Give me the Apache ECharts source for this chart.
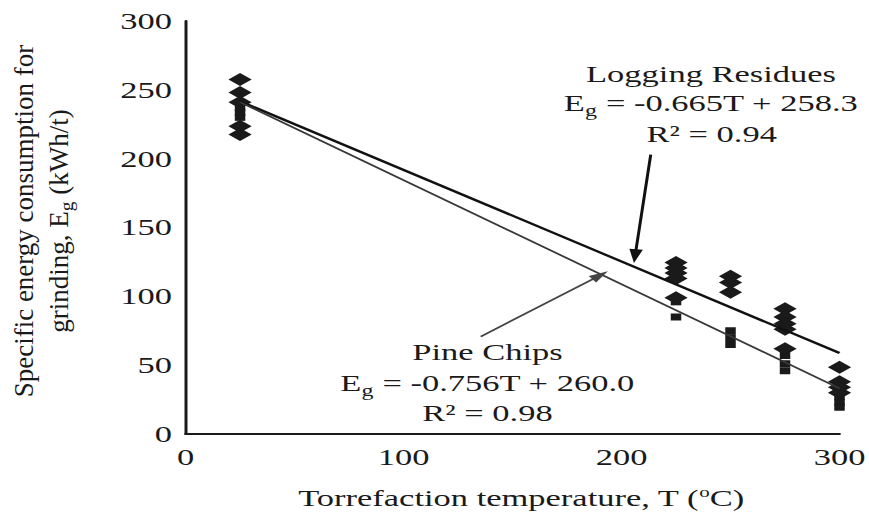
<!DOCTYPE html>
<html>
<head>
<meta charset="utf-8">
<script src="https://cdn.jsdelivr.net/npm/echarts@6/dist/echarts.min.js"></script>
<style>
html,body{margin:0;padding:0;background:#ffffff;overflow:hidden;width:869px;height:515px;}
#chart{width:579.333px;height:515px;transform:scaleX(1.5);transform-origin:0 0;}
</style>
</head>
<body>
<div id="chart"></div>
<script>
// ---- data ----
const xTickValues = [0, 100, 200, 300];
const yTickValues = [0, 50, 100, 150, 200, 250, 300];

// Logging residues (diamonds): [temperature, energy]
const loggingResidues = [
  [25, 257.5], [25, 248], [25, 241], [25, 223.5], [25, 217.5],
  [225, 124.5], [225, 120.5], [225, 117], [225, 113], [225, 99],
  [250, 114.5], [250, 110], [250, 103],
  [275, 91], [275, 85], [275, 80], [275, 76], [275, 62],
  [300, 48.5], [300, 38], [300, 34], [300, 30]
];
// Pine chips (squares)
const pineChips = [
  [25, 237], [25, 233.5], [25, 230],
  [225, 85], [225, 96],
  [250, 75], [250, 70], [250, 65],
  [275, 57], [275, 51], [275, 46],
  [300, 27], [300, 23], [300, 19.5]
];
// Fitted trend lines (end points)
const loggingTrend = [[25, 241.7], [300, 58.8]];
const pineTrend = [[25, 241.1], [300, 33.2]];

// Annotation arrows: [from, to]
const loggingArrow = [[213.4, 202.9], [206.2, 129.2]];
const pineArrow = [[135.4, 70.8], [190.2, 115.3]];

const loggingText = ['Logging Residues', '-0.665T + 258.3', '0.94'];
const pineText = ['Pine Chips', '-0.756T + 260.0', '0.98'];

// ---- chart ----
const FONT = '"Liberation Serif", "Times New Roman", serif';
const INK = '#1a1a1a';
const chart = echarts.init(document.getElementById('chart'), null, {renderer: 'svg'});

function plain(text, x, y) {
  return {
    type: 'text', x: x, y: y, silent: true,
    style: {
      text: text, fill: INK, font: '23px ' + FONT,
      fontSize: 23, fontFamily: FONT,
      align: 'center', verticalAlign: 'middle',
      textAlign: 'center', textVerticalAlign: 'middle'
    }
  };
}
function equation(expr, x, y) {
  return {
    type: 'text', x: x, y: y, silent: true,
    style: {
      text: '{n|E}{s|g}{n| = ' + expr + '}',
      align: 'center', verticalAlign: 'middle',
      textAlign: 'center', textVerticalAlign: 'middle',
      fill: INK,
      rich: {
        n: {fontSize: 23, fontFamily: FONT, fill: INK, lineHeight: 30, verticalAlign: 'middle'},
        s: {fontSize: 16, fontFamily: FONT, fill: INK, lineHeight: 15, verticalAlign: 'bottom'}
      }
    }
  };
}

const option = {
  backgroundColor: '#ffffff',
  animation: false,
  grid: {
    left: 123.7, right: 19.33, top: 21, bottom: 81,
    containLabel: false, outerBoundsMode: 'none'
  },
  xAxis: {
    type: 'value',
    min: xTickValues[0], max: xTickValues[xTickValues.length - 1],
    interval: xTickValues[1] - xTickValues[0],
    axisLine: {show: true, onZero: false, lineStyle: {color: INK, width: 2}},
    axisTick: {show: false},
    splitLine: {show: false},
    axisLabel: {color: INK, fontSize: 23, fontFamily: FONT, margin: 12},
    name: '{a|Torrefaction temperature, T (}{b|o}{a|C)}',
    nameLocation: 'middle',
    nameGap: 51,
    nameTextStyle: {
      padding: [0, 0, 0, 11],
      rich: {
        a: {fontSize: 23, fontFamily: FONT, color: INK, lineHeight: 26, verticalAlign: 'middle'},
        b: {fontSize: 14, fontFamily: FONT, color: INK, lineHeight: 20, verticalAlign: 'top'}
      }
    }
  },
  yAxis: {
    type: 'value',
    min: yTickValues[0], max: yTickValues[yTickValues.length - 1],
    interval: yTickValues[1] - yTickValues[0],
    axisLine: {show: true, onZero: false, lineStyle: {color: INK, width: 2}},
    axisTick: {show: false},
    splitLine: {show: false},
    axisLabel: {color: INK, fontSize: 23, fontFamily: FONT, margin: 9}
  },
  series: [
    {
      name: 'Pine Chips', type: 'scatter', data: pineChips,
      symbol: 'rect', symbolSize: [7, 7],
      itemStyle: {color: INK, opacity: 1}, z: 2
    },
    {
      name: 'Logging Residues', type: 'scatter', data: loggingResidues,
      symbol: 'diamond', symbolSize: [15.5, 13],
      itemStyle: {color: INK, opacity: 1}, z: 3
    },
    {
      name: 'Logging Residues trend', type: 'line', data: loggingTrend,
      showSymbol: false, symbol: 'none',
      lineStyle: {color: '#111111', width: 2.2}, z: 4,
      markLine: {
        silent: true, animation: false,
        label: {show: false},
        lineStyle: {color: '#111111', width: 2, type: 'solid'},
        data: [[
          {coord: loggingArrow[0], symbol: 'none'},
          {coord: loggingArrow[1], symbol: 'triangle', symbolSize: [9, 14]}
        ]]
      }
    },
    {
      name: 'Pine Chips trend', type: 'line', data: pineTrend,
      showSymbol: false, symbol: 'none',
      lineStyle: {color: '#383838', width: 1.6}, z: 4,
      markLine: {
        silent: true, animation: false,
        label: {show: false},
        lineStyle: {color: '#444444', width: 1.6, type: 'solid'},
        data: [[
          {coord: pineArrow[0], symbol: 'none'},
          {coord: pineArrow[1], symbol: 'triangle', symbolSize: [8, 13]}
        ]]
      }
    }
  ],
  graphic: [
    plain(loggingText[0], 474, 74),
    equation(loggingText[1], 474, 103.5),
    plain('R\u00b2 = ' + loggingText[2], 474.5, 134),
    plain(pineText[0], 325, 352.5),
    equation(pineText[1], 325, 383),
    plain('R\u00b2 = ' + pineText[2], 325, 413),
    {
      type: 'text', x: 27.6, y: 221, rotation: Math.PI / 2, scaleX: 1.5, silent: true,
      style: {
        text: '{n|Specific energy consumption for}\n{n|grinding, E}{s|g}{n| (kWh/t)}',
        align: 'center', verticalAlign: 'middle',
        textAlign: 'center', textVerticalAlign: 'middle',
        fill: INK,
        rich: {
          n: {fontSize: 18, fontFamily: FONT, fill: INK, lineHeight: 23.5, verticalAlign: 'middle'},
          s: {fontSize: 13, fontFamily: FONT, fill: INK, lineHeight: 14, verticalAlign: 'bottom'}
        }
      }
    }
  ]
};
chart.setOption(option);
</script>
</body>
</html>
